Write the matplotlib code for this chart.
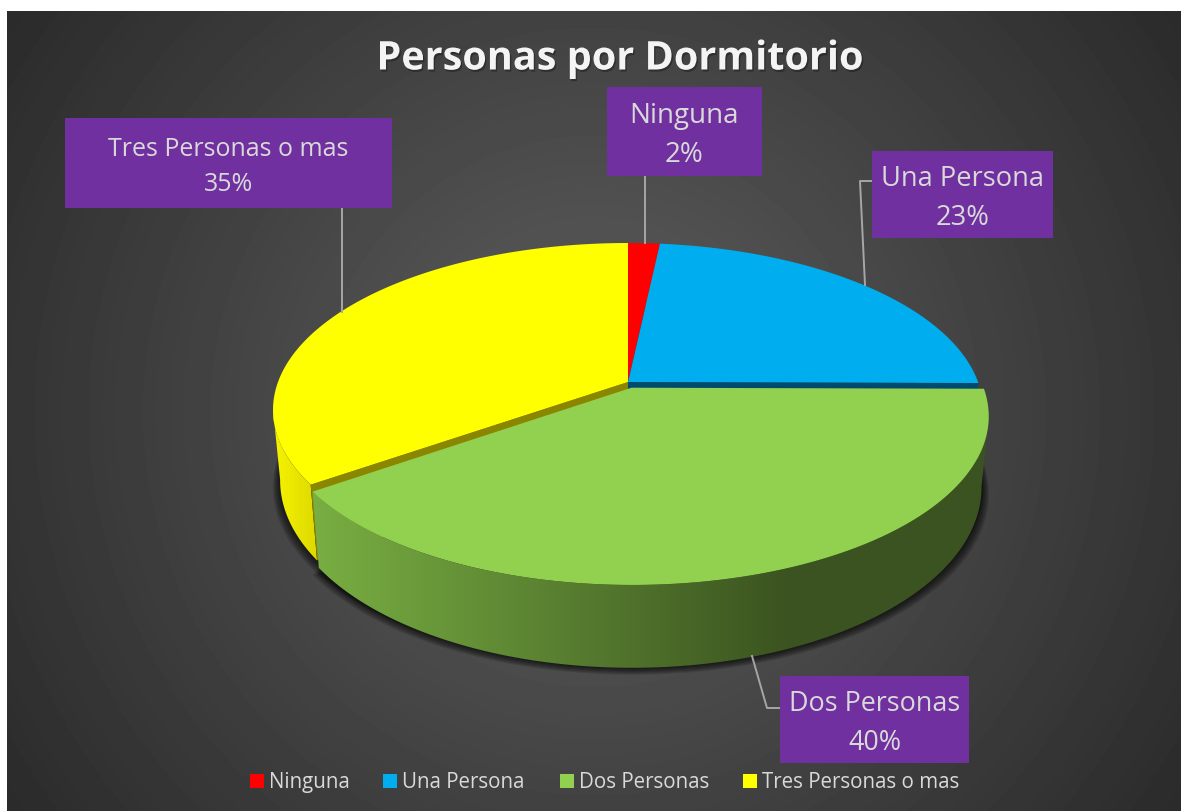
import numpy as np
import matplotlib
matplotlib.use('Agg')
import matplotlib.pyplot as plt
import matplotlib.patheffects as pe
from matplotlib.patches import Polygon, Rectangle

plt.rcParams['font.family'] = ['Open Sans', 'DejaVu Sans']

# datos
categorias = ['Ninguna', 'Una Persona', 'Dos Personas', 'Tres Personas o mas']
valores = [1.7, 23.4, 40.2, 34.7]
porcentajes = ['2%', '23%', '40%', '35%']
colores = ['#FF0000', '#00AEEF', '#92D050', '#FFFF00']

W, H = 1181, 812
fig = plt.figure(figsize=(W / 100, H / 100), dpi=100, facecolor='white')
ax = fig.add_axes([0, 0, 1, 1])
ax.axis('off')

# fondo con degradado radial
xx, yy = np.meshgrid(np.arange(7, W), np.arange(11, H))
r = np.clip(np.hypot(xx - 594, yy - 411) / 720, 0, 1)
gris = (95 - 53 * r) / 255
ax.imshow(gris, cmap='gray', vmin=0, vmax=1, extent=(7, W, H, 11), aspect='auto', zorder=0)

# perspectiva del disco
cx, cy = 628, 382
A, B, k = 350, 162.2, 0.167
esc, D = 0.98, 68.5
du, dv = 0.01, 0.035  # separacion de Dos Personas


def proyecta(u, v, abajo=False):
    w = 1 - k * v
    x = cx + A * u / w
    y = cy + B * v / w
    if abajo:
        x = cx + (x - cx) * esc
        y = y + D / w
    return x, y


def arco(a0, a1, du=0.0, dv=0.0, abajo=False):
    t = np.radians(np.linspace(a0, a1, 300))
    return proyecta(np.sin(t) + du, -np.cos(t) + dv, abajo)


def pared_visible(x0, y0, x1, y1, lado):
    # corta los arcos en el punto extremo para que la silueta sea recta
    if lado == 'izq':
        i, j = np.argmin(x0), np.argmin(x1)
        sup = np.column_stack([x0[:i + 1], y0[:i + 1]])
        inf = np.column_stack([x1[:j + 1], y1[:j + 1]])
    else:
        i, j = np.argmax(x0), np.argmax(x1)
        sup = np.column_stack([x0[i:], y0[i:]])
        inf = np.column_stack([x1[j:], y1[j:]])
    return np.vstack([sup, inf[::-1]])


cortes = np.cumsum([0] + valores) * 3.6

# sombra bajo la tarta
for xs, ys in [arco(0, 360, abajo=True), arco(cortes[2], cortes[3], du, dv, abajo=True)]:
    for i in range(8):
        sx = cx + (xs - cx) * (1 + i * 0.003)
        sy = ys + i * 1.0
        ax.fill(sx, sy, color='black', alpha=0.12, lw=0, zorder=1)

# paredes y caras de corte de lo que no esta separado
x0, y0 = arco(cortes[3], cortes[4])
x1, y1 = arco(cortes[3], cortes[4], abajo=True)
pared = Polygon(pared_visible(x0, y0, x1, y1, 'izq'), transform=ax.transData, fc='none', ec='none')
ax.add_patch(pared)
px = np.arange(270, 325)
img = np.zeros((1, px.size, 3))
img[0, :, 0] = np.interp(px, [275, 318], [246, 220]) / 255
img[0, :, 1] = np.interp(px, [275, 318], [242, 216]) / 255
im = ax.imshow(img, extent=(270, 325, 600, 380), aspect='auto', zorder=2)
im.set_clip_path(pared)

for ang, col in [(cortes[3], '#8A8600'), (cortes[2], '#004A6E')]:
    xa, ya = arco(ang, ang)
    xb, yb = arco(ang, ang, abajo=True)
    xc0, yc0 = proyecta(0.0, 0.0)
    xc1, yc1 = proyecta(0.0, 0.0, abajo=True)
    ax.fill([xc0, xa[0], xb[0], xc1], [yc0, ya[0], yb[0], yc1], color=col, lw=0, zorder=3)

# caras superiores
for i in [3, 0, 1]:
    x0, y0 = arco(cortes[i], cortes[i + 1])
    xc, yc = proyecta(0.0, 0.0)
    ax.fill(np.r_[xc, x0], np.r_[yc, y0], color=colores[i], lw=0, zorder=4)

# porcion separada (Dos Personas)
x0, y0 = arco(cortes[2], cortes[3], du, dv)
x1, y1 = arco(cortes[2], cortes[3], du, dv, abajo=True)
pared = Polygon(pared_visible(x0, y0, x1, y1, 'der'), transform=ax.transData, fc='none', ec='none')
ax.add_patch(pared)
px = np.arange(300, 1000)
img = np.zeros((1, px.size, 3))
for c, (c0, c1) in enumerate([(0x78, 0x3B), (0xAE, 0x53), (0x42, 0x20)]):
    img[0, :, c] = np.interp(px, [315, 790], [c0, c1]) / 255
im = ax.imshow(img, extent=(300, 1000, 700, 380), aspect='auto', zorder=5)
im.set_clip_path(pared)
xc, yc = proyecta(du, dv)
ax.fill(np.r_[xc, x0], np.r_[yc, y0], color=colores[2], lw=0, zorder=6)

# lineas guia
guias = [([645, 645], [176, 243]),
         ([872, 860, 865], [181, 181, 285]),
         ([342, 342], [208, 312]),
         ([780, 767, 752], [708, 708, 656])]
for gx, gy in guias:
    ax.plot(gx, gy, color='#A6A6A6', lw=1.4, zorder=7)

# etiquetas
cajas = [(607, 87, 155, 89, 20), (872, 151, 181, 87, 19.6),
         (780, 676, 189, 87, 19.4), (65, 118, 327, 90, 18)]
for nombre, pct, (bx, by, bw, bh, fs) in zip(categorias, porcentajes, cajas):
    ax.add_patch(Rectangle((bx, by), bw, bh, fc='#7030A0', ec='none', zorder=8))
    ax.text(bx + bw / 2, by + bh / 2 + 3, nombre + '\n' + pct, color='#D9D9D9', fontsize=fs,
            ha='center', va='center', linespacing=1.5, zorder=9)

# titulo
titulo = ax.text(620, 59, 'Personas por Dormitorio', color='#F4F4F4', fontsize=28.5, fontweight='bold',
                 ha='center', va='center', zorder=9)
titulo.set_path_effects([pe.withSimplePatchShadow(offset=(1, -1.5), shadow_rgbFace='black', alpha=0.3)])

# leyenda
ley_x = [250, 383, 560, 743]
for lx, nombre, col in zip(ley_x, categorias, colores):
    ax.add_patch(Rectangle((lx, 774), 14, 14, fc=col, ec='none', zorder=8))
    ax.text(lx + 19, 781.5, nombre, color='#D9D9D9', fontsize=14.8, ha='left', va='center', zorder=9)

ax.set_xlim(0, W)
ax.set_ylim(H - 1, -1)
fig.savefig('out.png', dpi=100)
